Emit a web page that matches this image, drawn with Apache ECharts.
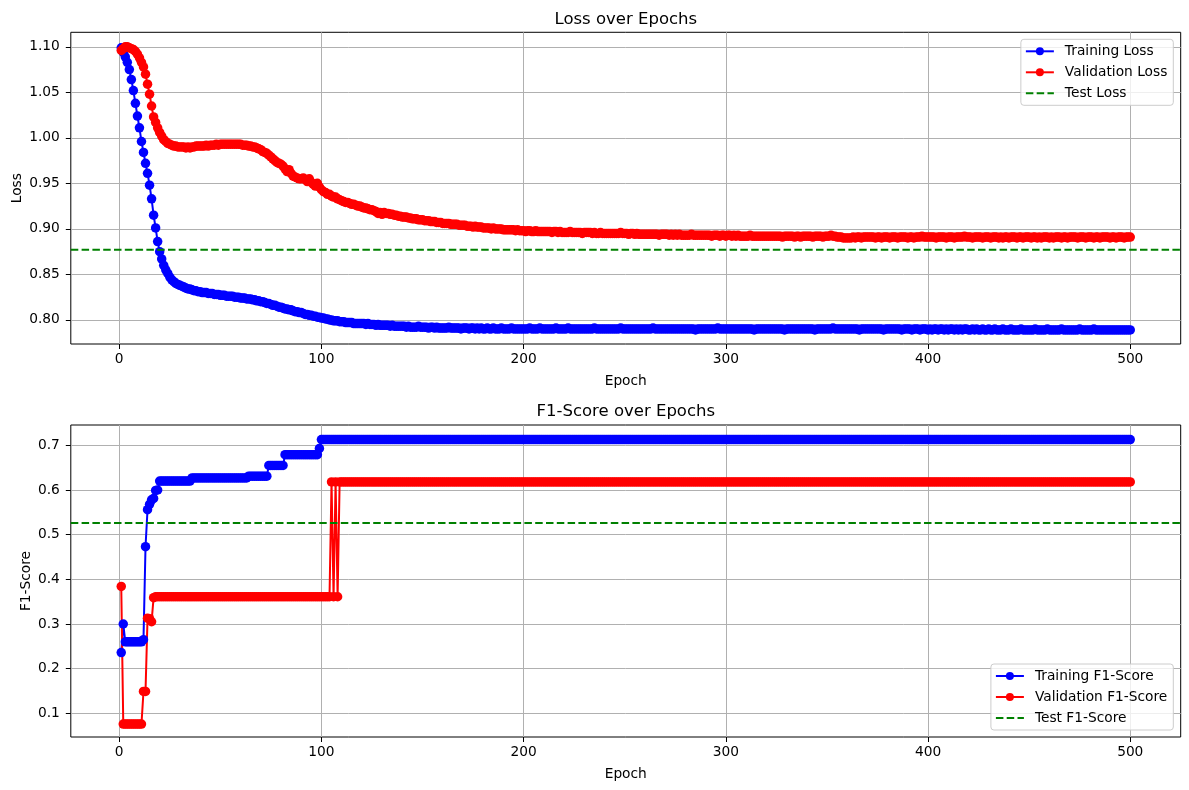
<!DOCTYPE html>
<html>
<head>
<meta charset="utf-8">
<title>Loss and F1-Score over Epochs</title>
<script src="https://cdn.jsdelivr.net/npm/echarts@6/dist/echarts.min.js"></script>
<style>
  html, body { margin: 0; padding: 0; background: #fff; }
  #chart { width: 1189px; height: 790px; }
</style>
</head>
<body>
<div id="chart"></div>
<script>
// tick labels
const epochTicks = [0, 100, 200, 300, 400, 500];
const lossTicks = [0.80, 0.85, 0.90, 0.95, 1.00, 1.05, 1.10];
const f1Ticks = [0.1, 0.2, 0.3, 0.4, 0.5, 0.6, 0.7];

// horizontal reference values
const testLoss = 0.877;
const testF1 = 0.526;

// epochs 1..500
const trainLoss = [
  1.099,1.094,1.089,1.083,1.075,1.064,1.052,1.038,1.024,1.011,
  0.996,0.984,0.972,0.961,0.948,0.933,0.915,0.901,0.886,0.875,
  0.867,0.860,0.855,0.851,0.847,0.844,0.842,0.840,0.839,0.838,
  0.837,0.836,0.835,0.834,0.834,0.833,0.832,0.832,0.831,0.831,
  0.830,0.830,0.830,0.829,0.829,0.829,0.828,0.828,0.828,0.827,
  0.827,0.827,0.826,0.826,0.826,0.826,0.825,0.825,0.825,0.824,
  0.824,0.824,0.823,0.823,0.823,0.822,0.822,0.821,0.821,0.820,
  0.820,0.819,0.818,0.818,0.817,0.816,0.816,0.815,0.814,0.814,
  0.813,0.812,0.812,0.811,0.811,0.810,0.809,0.809,0.808,0.808,
  0.807,0.806,0.806,0.805,0.805,0.804,0.804,0.803,0.803,0.802,
  0.802,0.801,0.801,0.800,0.800,0.799,0.799,0.799,0.798,0.798,
  0.798,0.797,0.797,0.797,0.797,0.796,0.796,0.796,0.796,0.796,
  0.796,0.795,0.796,0.795,0.795,0.795,0.794,0.795,0.794,0.794,
  0.794,0.794,0.794,0.793,0.794,0.793,0.793,0.793,0.793,0.793,
  0.793,0.792,0.793,0.792,0.792,0.792,0.792,0.793,0.792,0.792,
  0.792,0.792,0.791,0.792,0.792,0.791,0.792,0.791,0.791,0.791,
  0.791,0.791,0.792,0.791,0.791,0.791,0.791,0.791,0.790,0.791,
  0.791,0.791,0.790,0.791,0.791,0.790,0.791,0.790,0.791,0.790,
  0.790,0.791,0.790,0.790,0.791,0.790,0.790,0.790,0.791,0.790,
  0.790,0.790,0.790,0.791,0.790,0.790,0.790,0.790,0.790,0.790,
  0.790,0.790,0.791,0.790,0.790,0.790,0.790,0.791,0.790,0.790,
  0.790,0.790,0.790,0.790,0.790,0.791,0.790,0.790,0.790,0.790,
  0.790,0.791,0.790,0.790,0.790,0.790,0.790,0.790,0.790,0.790,
  0.790,0.790,0.790,0.790,0.791,0.790,0.790,0.790,0.790,0.790,
  0.790,0.790,0.790,0.790,0.790,0.790,0.790,0.791,0.790,0.790,
  0.790,0.790,0.790,0.790,0.790,0.790,0.790,0.790,0.790,0.790,
  0.790,0.790,0.790,0.791,0.790,0.790,0.790,0.790,0.790,0.790,
  0.790,0.790,0.790,0.790,0.790,0.790,0.790,0.790,0.790,0.790,
  0.790,0.790,0.790,0.790,0.789,0.790,0.790,0.790,0.790,0.790,
  0.790,0.790,0.790,0.790,0.790,0.791,0.790,0.790,0.790,0.790,
  0.790,0.790,0.790,0.790,0.790,0.790,0.790,0.790,0.790,0.790,
  0.790,0.790,0.790,0.789,0.790,0.790,0.790,0.790,0.790,0.790,
  0.790,0.790,0.790,0.790,0.790,0.790,0.790,0.790,0.789,0.790,
  0.790,0.790,0.790,0.790,0.790,0.790,0.790,0.790,0.790,0.790,
  0.790,0.790,0.790,0.789,0.790,0.790,0.790,0.790,0.790,0.790,
  0.790,0.790,0.791,0.790,0.790,0.790,0.790,0.790,0.790,0.790,
  0.790,0.790,0.790,0.790,0.790,0.789,0.790,0.790,0.790,0.790,
  0.790,0.790,0.790,0.790,0.790,0.790,0.790,0.789,0.790,0.790,
  0.790,0.790,0.790,0.790,0.790,0.790,0.789,0.790,0.790,0.790,
  0.790,0.789,0.790,0.790,0.790,0.789,0.790,0.790,0.790,0.789,
  0.790,0.789,0.790,0.790,0.789,0.790,0.790,0.789,0.790,0.789,
  0.790,0.790,0.789,0.790,0.789,0.790,0.789,0.790,0.790,0.789,
  0.789,0.790,0.789,0.790,0.789,0.789,0.790,0.789,0.789,0.790,
  0.789,0.789,0.790,0.789,0.789,0.789,0.790,0.789,0.789,0.789,
  0.790,0.789,0.789,0.789,0.789,0.790,0.789,0.789,0.789,0.789,
  0.789,0.789,0.790,0.789,0.789,0.789,0.789,0.789,0.790,0.789,
  0.789,0.789,0.789,0.789,0.789,0.790,0.789,0.789,0.789,0.789,
  0.789,0.789,0.789,0.789,0.790,0.789,0.789,0.789,0.789,0.789,
  0.789,0.790,0.789,0.789,0.789,0.789,0.789,0.789,0.789,0.789,
  0.789,0.789,0.789,0.789,0.789,0.789,0.789,0.789,0.789,0.789
];

const valLoss = [
  1.096,1.098,1.100,1.100,1.099,1.098,1.097,1.095,1.092,1.088,
  1.083,1.078,1.070,1.059,1.048,1.035,1.023,1.017,1.011,1.006,
  1.002,0.998,0.996,0.994,0.993,0.992,0.991,0.991,0.990,0.990,
  0.990,0.990,0.989,0.990,0.989,0.990,0.990,0.991,0.991,0.991,
  0.991,0.991,0.992,0.991,0.992,0.992,0.992,0.993,0.992,0.993,
  0.993,0.993,0.993,0.993,0.993,0.993,0.993,0.993,0.993,0.993,
  0.992,0.992,0.992,0.991,0.991,0.990,0.990,0.989,0.988,0.987,
  0.985,0.984,0.983,0.981,0.979,0.977,0.975,0.973,0.972,0.971,
  0.969,0.966,0.963,0.965,0.961,0.958,0.957,0.956,0.955,0.955,
  0.956,0.954,0.952,0.955,0.951,0.949,0.947,0.950,0.946,0.943,
  0.941,0.940,0.938,0.938,0.936,0.935,0.935,0.933,0.932,0.931,
  0.930,0.929,0.929,0.928,0.927,0.927,0.926,0.925,0.925,0.924,
  0.923,0.923,0.922,0.921,0.921,0.920,0.919,0.917,0.918,0.916,
  0.918,0.917,0.917,0.916,0.916,0.915,0.915,0.914,0.914,0.913,
  0.913,0.913,0.912,0.912,0.911,0.911,0.911,0.910,0.910,0.910,
  0.909,0.909,0.909,0.908,0.908,0.908,0.907,0.907,0.907,0.906,
  0.906,0.906,0.906,0.905,0.905,0.905,0.905,0.904,0.904,0.904,
  0.904,0.903,0.903,0.903,0.902,0.903,0.902,0.902,0.902,0.901,
  0.901,0.901,0.901,0.900,0.901,0.900,0.900,0.900,0.900,0.899,
  0.899,0.899,0.899,0.899,0.899,0.898,0.899,0.898,0.898,0.898,
  0.897,0.898,0.898,0.897,0.897,0.898,0.897,0.897,0.897,0.897,
  0.897,0.897,0.897,0.896,0.897,0.897,0.896,0.897,0.896,0.896,
  0.896,0.896,0.897,0.896,0.896,0.896,0.896,0.896,0.895,0.896,
  0.896,0.896,0.896,0.895,0.896,0.895,0.895,0.896,0.895,0.895,
  0.895,0.895,0.895,0.895,0.895,0.895,0.895,0.896,0.895,0.895,
  0.895,0.894,0.895,0.895,0.894,0.895,0.894,0.894,0.894,0.894,
  0.894,0.894,0.894,0.894,0.894,0.894,0.893,0.894,0.894,0.894,
  0.894,0.893,0.894,0.893,0.894,0.893,0.894,0.893,0.893,0.893,
  0.893,0.893,0.894,0.893,0.893,0.893,0.893,0.893,0.893,0.893,
  0.893,0.893,0.892,0.893,0.893,0.893,0.892,0.893,0.893,0.892,
  0.893,0.893,0.892,0.893,0.892,0.893,0.892,0.892,0.892,0.892,
  0.892,0.893,0.892,0.892,0.892,0.892,0.892,0.892,0.892,0.892,
  0.892,0.892,0.892,0.892,0.892,0.892,0.892,0.891,0.892,0.892,
  0.892,0.892,0.892,0.891,0.892,0.892,0.891,0.892,0.892,0.892,
  0.892,0.892,0.891,0.892,0.892,0.892,0.892,0.891,0.892,0.892,
  0.892,0.893,0.892,0.892,0.891,0.891,0.891,0.890,0.890,0.890,
  0.890,0.890,0.891,0.890,0.891,0.891,0.890,0.891,0.891,0.891,
  0.891,0.891,0.891,0.890,0.891,0.891,0.890,0.891,0.891,0.891,
  0.890,0.891,0.891,0.891,0.890,0.891,0.891,0.891,0.891,0.890,
  0.891,0.891,0.890,0.891,0.891,0.891,0.892,0.891,0.891,0.891,
  0.891,0.891,0.891,0.890,0.891,0.891,0.891,0.891,0.890,0.891,
  0.891,0.891,0.890,0.891,0.891,0.891,0.891,0.892,0.891,0.891,
  0.891,0.890,0.891,0.891,0.891,0.891,0.890,0.891,0.891,0.891,
  0.890,0.891,0.891,0.891,0.890,0.891,0.890,0.891,0.891,0.890,
  0.891,0.891,0.891,0.890,0.891,0.891,0.890,0.891,0.891,0.891,
  0.890,0.891,0.891,0.890,0.891,0.890,0.891,0.891,0.891,0.890,
  0.891,0.890,0.891,0.891,0.891,0.890,0.891,0.891,0.890,0.891,
  0.891,0.891,0.891,0.890,0.891,0.891,0.891,0.890,0.891,0.891,
  0.891,0.890,0.891,0.891,0.890,0.891,0.891,0.891,0.891,0.890,
  0.891,0.891,0.890,0.891,0.891,0.891,0.890,0.891,0.891,0.891
];

const trainF1 = [
  0.236,0.300,0.260,0.260,0.260,0.260,0.260,0.260,0.260,0.260,
  0.260,0.265,0.473,0.556,0.568,0.578,0.581,0.599,0.600,0.620,
  0.620,0.620,0.620,0.620,0.620,0.620,0.620,0.620,0.620,0.620,
  0.620,0.620,0.620,0.620,0.620,0.627,0.627,0.627,0.627,0.627,
  0.627,0.627,0.627,0.627,0.627,0.627,0.627,0.627,0.627,0.627,
  0.627,0.627,0.627,0.627,0.627,0.627,0.627,0.627,0.627,0.627,
  0.627,0.627,0.627,0.631,0.631,0.631,0.631,0.631,0.631,0.631,
  0.631,0.631,0.631,0.655,0.655,0.655,0.655,0.655,0.655,0.655,
  0.655,0.679,0.679,0.679,0.679,0.679,0.679,0.679,0.679,0.679,
  0.679,0.679,0.679,0.679,0.679,0.679,0.679,0.679,0.693,0.713,
  0.713,0.713,0.713,0.713,0.713,0.713,0.713,0.713,0.713,0.713,
  0.713,0.713,0.713,0.713,0.713,0.713,0.713,0.713,0.713,0.713,
  0.713,0.713,0.713,0.713,0.713,0.713,0.713,0.713,0.713,0.713,
  0.713,0.713,0.713,0.713,0.713,0.713,0.713,0.713,0.713,0.713,
  0.713,0.713,0.713,0.713,0.713,0.713,0.713,0.713,0.713,0.713,
  0.713,0.713,0.713,0.713,0.713,0.713,0.713,0.713,0.713,0.713,
  0.713,0.713,0.713,0.713,0.713,0.713,0.713,0.713,0.713,0.713,
  0.713,0.713,0.713,0.713,0.713,0.713,0.713,0.713,0.713,0.713,
  0.713,0.713,0.713,0.713,0.713,0.713,0.713,0.713,0.713,0.713,
  0.713,0.713,0.713,0.713,0.713,0.713,0.713,0.713,0.713,0.713,
  0.713,0.713,0.713,0.713,0.713,0.713,0.713,0.713,0.713,0.713,
  0.713,0.713,0.713,0.713,0.713,0.713,0.713,0.713,0.713,0.713,
  0.713,0.713,0.713,0.713,0.713,0.713,0.713,0.713,0.713,0.713,
  0.713,0.713,0.713,0.713,0.713,0.713,0.713,0.713,0.713,0.713,
  0.713,0.713,0.713,0.713,0.713,0.713,0.713,0.713,0.713,0.713,
  0.713,0.713,0.713,0.713,0.713,0.713,0.713,0.713,0.713,0.713,
  0.713,0.713,0.713,0.713,0.713,0.713,0.713,0.713,0.713,0.713,
  0.713,0.713,0.713,0.713,0.713,0.713,0.713,0.713,0.713,0.713,
  0.713,0.713,0.713,0.713,0.713,0.713,0.713,0.713,0.713,0.713,
  0.713,0.713,0.713,0.713,0.713,0.713,0.713,0.713,0.713,0.713,
  0.713,0.713,0.713,0.713,0.713,0.713,0.713,0.713,0.713,0.713,
  0.713,0.713,0.713,0.713,0.713,0.713,0.713,0.713,0.713,0.713,
  0.713,0.713,0.713,0.713,0.713,0.713,0.713,0.713,0.713,0.713,
  0.713,0.713,0.713,0.713,0.713,0.713,0.713,0.713,0.713,0.713,
  0.713,0.713,0.713,0.713,0.713,0.713,0.713,0.713,0.713,0.713,
  0.713,0.713,0.713,0.713,0.713,0.713,0.713,0.713,0.713,0.713,
  0.713,0.713,0.713,0.713,0.713,0.713,0.713,0.713,0.713,0.713,
  0.713,0.713,0.713,0.713,0.713,0.713,0.713,0.713,0.713,0.713,
  0.713,0.713,0.713,0.713,0.713,0.713,0.713,0.713,0.713,0.713,
  0.713,0.713,0.713,0.713,0.713,0.713,0.713,0.713,0.713,0.713,
  0.713,0.713,0.713,0.713,0.713,0.713,0.713,0.713,0.713,0.713,
  0.713,0.713,0.713,0.713,0.713,0.713,0.713,0.713,0.713,0.713,
  0.713,0.713,0.713,0.713,0.713,0.713,0.713,0.713,0.713,0.713,
  0.713,0.713,0.713,0.713,0.713,0.713,0.713,0.713,0.713,0.713,
  0.713,0.713,0.713,0.713,0.713,0.713,0.713,0.713,0.713,0.713,
  0.713,0.713,0.713,0.713,0.713,0.713,0.713,0.713,0.713,0.713,
  0.713,0.713,0.713,0.713,0.713,0.713,0.713,0.713,0.713,0.713,
  0.713,0.713,0.713,0.713,0.713,0.713,0.713,0.713,0.713,0.713,
  0.713,0.713,0.713,0.713,0.713,0.713,0.713,0.713,0.713,0.713,
  0.713,0.713,0.713,0.713,0.713,0.713,0.713,0.713,0.713,0.713
];

const valF1 = [
  0.384,0.076,0.076,0.076,0.076,0.076,0.076,0.076,0.076,0.076,
  0.076,0.149,0.149,0.313,0.312,0.305,0.359,0.361,0.361,0.361,
  0.361,0.361,0.361,0.361,0.361,0.361,0.361,0.361,0.361,0.361,
  0.361,0.361,0.361,0.361,0.361,0.361,0.361,0.361,0.361,0.361,
  0.361,0.361,0.361,0.361,0.361,0.361,0.361,0.361,0.361,0.361,
  0.361,0.361,0.361,0.361,0.361,0.361,0.361,0.361,0.361,0.361,
  0.361,0.361,0.361,0.361,0.361,0.361,0.361,0.361,0.361,0.361,
  0.361,0.361,0.361,0.361,0.361,0.361,0.361,0.361,0.361,0.361,
  0.361,0.361,0.361,0.361,0.361,0.361,0.361,0.361,0.361,0.361,
  0.361,0.361,0.361,0.361,0.361,0.361,0.361,0.361,0.361,0.361,
  0.361,0.361,0.361,0.361,0.618,0.361,0.618,0.361,0.618,0.618,
  0.618,0.618,0.618,0.618,0.618,0.618,0.618,0.618,0.618,0.618,
  0.618,0.618,0.618,0.618,0.618,0.618,0.618,0.618,0.618,0.618,
  0.618,0.618,0.618,0.618,0.618,0.618,0.618,0.618,0.618,0.618,
  0.618,0.618,0.618,0.618,0.618,0.618,0.618,0.618,0.618,0.618,
  0.618,0.618,0.618,0.618,0.618,0.618,0.618,0.618,0.618,0.618,
  0.618,0.618,0.618,0.618,0.618,0.618,0.618,0.618,0.618,0.618,
  0.618,0.618,0.618,0.618,0.618,0.618,0.618,0.618,0.618,0.618,
  0.618,0.618,0.618,0.618,0.618,0.618,0.618,0.618,0.618,0.618,
  0.618,0.618,0.618,0.618,0.618,0.618,0.618,0.618,0.618,0.618,
  0.618,0.618,0.618,0.618,0.618,0.618,0.618,0.618,0.618,0.618,
  0.618,0.618,0.618,0.618,0.618,0.618,0.618,0.618,0.618,0.618,
  0.618,0.618,0.618,0.618,0.618,0.618,0.618,0.618,0.618,0.618,
  0.618,0.618,0.618,0.618,0.618,0.618,0.618,0.618,0.618,0.618,
  0.618,0.618,0.618,0.618,0.618,0.618,0.618,0.618,0.618,0.618,
  0.618,0.618,0.618,0.618,0.618,0.618,0.618,0.618,0.618,0.618,
  0.618,0.618,0.618,0.618,0.618,0.618,0.618,0.618,0.618,0.618,
  0.618,0.618,0.618,0.618,0.618,0.618,0.618,0.618,0.618,0.618,
  0.618,0.618,0.618,0.618,0.618,0.618,0.618,0.618,0.618,0.618,
  0.618,0.618,0.618,0.618,0.618,0.618,0.618,0.618,0.618,0.618,
  0.618,0.618,0.618,0.618,0.618,0.618,0.618,0.618,0.618,0.618,
  0.618,0.618,0.618,0.618,0.618,0.618,0.618,0.618,0.618,0.618,
  0.618,0.618,0.618,0.618,0.618,0.618,0.618,0.618,0.618,0.618,
  0.618,0.618,0.618,0.618,0.618,0.618,0.618,0.618,0.618,0.618,
  0.618,0.618,0.618,0.618,0.618,0.618,0.618,0.618,0.618,0.618,
  0.618,0.618,0.618,0.618,0.618,0.618,0.618,0.618,0.618,0.618,
  0.618,0.618,0.618,0.618,0.618,0.618,0.618,0.618,0.618,0.618,
  0.618,0.618,0.618,0.618,0.618,0.618,0.618,0.618,0.618,0.618,
  0.618,0.618,0.618,0.618,0.618,0.618,0.618,0.618,0.618,0.618,
  0.618,0.618,0.618,0.618,0.618,0.618,0.618,0.618,0.618,0.618,
  0.618,0.618,0.618,0.618,0.618,0.618,0.618,0.618,0.618,0.618,
  0.618,0.618,0.618,0.618,0.618,0.618,0.618,0.618,0.618,0.618,
  0.618,0.618,0.618,0.618,0.618,0.618,0.618,0.618,0.618,0.618,
  0.618,0.618,0.618,0.618,0.618,0.618,0.618,0.618,0.618,0.618,
  0.618,0.618,0.618,0.618,0.618,0.618,0.618,0.618,0.618,0.618,
  0.618,0.618,0.618,0.618,0.618,0.618,0.618,0.618,0.618,0.618,
  0.618,0.618,0.618,0.618,0.618,0.618,0.618,0.618,0.618,0.618,
  0.618,0.618,0.618,0.618,0.618,0.618,0.618,0.618,0.618,0.618,
  0.618,0.618,0.618,0.618,0.618,0.618,0.618,0.618,0.618,0.618,
  0.618,0.618,0.618,0.618,0.618,0.618,0.618,0.618,0.618,0.618
];

const BLUE = '#0000ff';
const RED = '#ff0000';
const GREEN = '#008000';
const FONT = 'DejaVu Sans';
const xMin = -23.95, xMax = 524.95;

const toPoints = arr => arr.map((v, i) => [i + 1, v]);

function xAxisOf(gridIndex) {
  return {
    type: 'value', gridIndex: gridIndex, min: xMin, max: xMax,
    axisLine: {show: false, onZero: false},
    axisTick: {show: true, length: 5, customValues: epochTicks, lineStyle: {color: '#000', width: 1}},
    axisLabel: {customValues: epochTicks, color: '#000', fontSize: 13.75, margin: 8},
    splitLine: {show: true, lineStyle: {color: '#b0b0b0', width: 1}},
    name: 'Epoch', nameLocation: 'middle', nameGap: 30, nameMoveOverlap: false,
    nameTextStyle: {color: '#000', fontSize: 13.75}
  };
}

function yAxisOf(gridIndex, min, max, ticks, digits, name, gap) {
  return {
    type: 'value', gridIndex: gridIndex, min: min, max: max,
    axisLine: {show: false, onZero: false},
    axisTick: {show: true, length: 5, customValues: ticks, lineStyle: {color: '#000', width: 1}},
    axisLabel: {customValues: ticks, color: '#000', fontSize: 13.75, margin: 11,
      formatter: v => v.toFixed(digits)},
    splitLine: {show: true, lineStyle: {color: '#b0b0b0', width: 1}},
    name: name, nameLocation: 'middle', nameGap: gap, nameMoveOverlap: false,
    nameTextStyle: {color: '#000', fontSize: 13.75}
  };
}

function lineSeries(name, idx, data, color) {
  return {
    name: name, type: 'line', xAxisIndex: idx, yAxisIndex: idx,
    data: toPoints(data), symbol: 'circle', symbolSize: 9.5, showSymbol: true,
    lineStyle: {color: color, width: 2}, itemStyle: {color: color},
    emphasis: {disabled: true}
  };
}

function testSeries(name, idx, value) {
  return {
    name: name, type: 'line', xAxisIndex: idx, yAxisIndex: idx, z: 5,
    data: [[xMin, value], [xMax, value]], symbol: 'none',
    lineStyle: {color: GREEN, width: 2, type: [7.5, 3.3]}, itemStyle: {color: GREEN},
    emphasis: {disabled: true}
  };
}

// legend entry for the dashed line: no marker in its icon
const noMarker = name => ({name: name, itemStyle: {color: 'rgba(0,0,0,0)', borderWidth: 0, opacity: 0}});

function legendOf(names, pos) {
  return Object.assign({
    data: [names[0], names[1], noMarker(names[2])], orient: 'vertical', right: 15.7,
    itemWidth: 28, itemHeight: 10, itemGap: 7, padding: [5, 6, 5, 4],
    backgroundColor: 'rgba(255,255,255,0.8)', borderColor: '#cccccc', borderWidth: 1, borderRadius: 3,
    textStyle: {color: '#000', fontSize: 13.75, padding: [0, 0, 0, 6]},
    selectedMode: false
  }, pos);
}

const gridBase = {left: 70.8, right: 8.3, show: true, borderColor: '#000', borderWidth: 1,
  containLabel: false, outerBoundsMode: 'none'};

const chart = echarts.init(document.getElementById('chart'), null, {renderer: 'canvas'});
chart.setOption({
  animation: false,
  backgroundColor: '#fff',
  textStyle: {fontFamily: FONT},
  title: [
    {text: 'Loss over Epochs', left: 625.8, top: 11, textAlign: 'center', padding: 0,
      textStyle: {fontSize: 16.5, fontWeight: 'normal', color: '#000'}},
    {text: 'F1-Score over Epochs', left: 625.8, top: 403, textAlign: 'center', padding: 0,
      textStyle: {fontSize: 16.5, fontWeight: 'normal', color: '#000'}}
  ],
  grid: [
    Object.assign({top: 32.3, height: 311.7}, gridBase),
    Object.assign({top: 425, height: 312}, gridBase)
  ],
  legend: [
    legendOf(['Training Loss', 'Validation Loss', 'Test Loss'], {top: 39.3}),
    legendOf(['Training F1-Score', 'Validation F1-Score', 'Test F1-Score'], {top: 664})
  ],
  xAxis: [xAxisOf(0), xAxisOf(1)],
  yAxis: [
    yAxisOf(0, 0.7735, 1.116, lossTicks, 2, 'Loss', 46),
    yAxisOf(1, 0.047, 0.7455, f1Ticks, 1, 'F1-Score', 37)
  ],
  series: [
    lineSeries('Training Loss', 0, trainLoss, BLUE),
    lineSeries('Validation Loss', 0, valLoss, RED),
    testSeries('Test Loss', 0, testLoss),
    lineSeries('Training F1-Score', 1, trainF1, BLUE),
    lineSeries('Validation F1-Score', 1, valF1, RED),
    testSeries('Test F1-Score', 1, testF1)
  ]
});
</script>
</body>
</html>
